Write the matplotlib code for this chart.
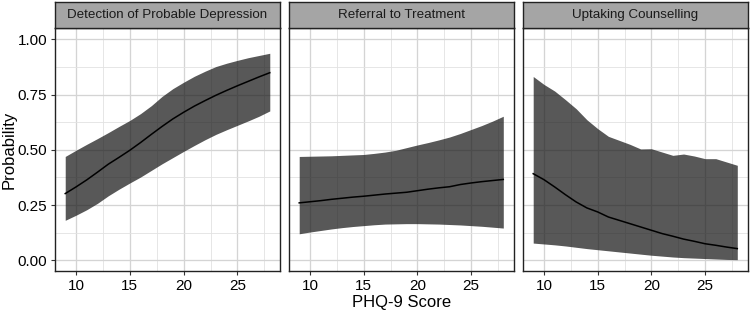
import matplotlib
matplotlib.use("Agg")
import matplotlib.pyplot as plt
from matplotlib.ticker import MultipleLocator
import numpy as np

plt.rcParams['font.family'] = ['Liberation Sans', 'DejaVu Sans']

phq = [9, 10, 11, 12, 13, 14, 15, 16, 17, 18, 19, 20, 21, 22, 23, 24, 25, 26, 27, 28]

titles = ["Detection of Probable Depression", "Referral to Treatment", "Uptaking Counselling"]

detect_fit = [0.302, 0.332, 0.364, 0.399, 0.435, 0.466, 0.498, 0.533, 0.570, 0.606,
              0.640, 0.670, 0.698, 0.723, 0.747, 0.769, 0.790, 0.810, 0.830, 0.849]
detect_hi = [0.470, 0.498, 0.525, 0.551, 0.578, 0.606, 0.633, 0.664, 0.700, 0.742,
             0.777, 0.806, 0.833, 0.856, 0.877, 0.892, 0.905, 0.917, 0.927, 0.937]
detect_lo = [0.181, 0.204, 0.229, 0.258, 0.292, 0.322, 0.350, 0.377, 0.407, 0.437,
             0.465, 0.493, 0.520, 0.546, 0.570, 0.591, 0.611, 0.631, 0.652, 0.676]

refer_fit = [0.260, 0.265, 0.270, 0.276, 0.281, 0.286, 0.290, 0.295, 0.300, 0.304,
             0.308, 0.315, 0.322, 0.328, 0.333, 0.343, 0.350, 0.356, 0.361, 0.366]
refer_hi = [0.470, 0.471, 0.472, 0.473, 0.475, 0.477, 0.479, 0.484, 0.490, 0.498,
            0.510, 0.522, 0.533, 0.545, 0.558, 0.574, 0.592, 0.610, 0.630, 0.652]
refer_lo = [0.120, 0.128, 0.135, 0.142, 0.148, 0.153, 0.157, 0.161, 0.164, 0.165,
            0.166, 0.166, 0.165, 0.164, 0.162, 0.160, 0.157, 0.154, 0.150, 0.146]

couns_fit = [0.392, 0.365, 0.332, 0.297, 0.264, 0.237, 0.219, 0.196, 0.181, 0.166,
             0.151, 0.136, 0.121, 0.109, 0.096, 0.086, 0.075, 0.068, 0.060, 0.053]
couns_hi = [0.832, 0.796, 0.766, 0.727, 0.686, 0.636, 0.596, 0.561, 0.543, 0.525,
            0.504, 0.505, 0.490, 0.475, 0.481, 0.472, 0.460, 0.460, 0.445, 0.430]
couns_lo = [0.078, 0.074, 0.070, 0.065, 0.059, 0.053, 0.048, 0.043, 0.038, 0.033,
            0.028, 0.023, 0.019, 0.015, 0.012, 0.010, 0.008, 0.006, 0.004, 0.003]

fits = [detect_fit, refer_fit, couns_fit]
his = [detect_hi, refer_hi, couns_hi]
los = [detect_lo, refer_lo, couns_lo]

x_ticks = [10, 15, 20, 25]
y_ticks = [0.00, 0.25, 0.50, 0.75, 1.00]
y_tick_labels = ["0.00", "0.25", "0.50", "0.75", "1.00"]

W, H = 750, 311
fig = plt.figure(figsize=(W / 100, H / 100), dpi=100)

panels_px = [(55, 280), (289, 513.5), (523, 747.5)]
top_px, bot_px, strip_top_px = 28.3, 270.7, 2.0

for i, (x0, x1) in enumerate(panels_px):
    ax = fig.add_axes([x0 / W, 1 - bot_px / H, (x1 - x0) / W, (bot_px - top_px) / H])
    ax.set_xlim(8.05, 28.95)
    ax.set_ylim(-0.047, 1.05)
    ax.xaxis.set_major_locator(MultipleLocator(5))
    ax.xaxis.set_minor_locator(MultipleLocator(2.5))
    ax.yaxis.set_major_locator(MultipleLocator(0.25))
    ax.yaxis.set_minor_locator(MultipleLocator(0.125))
    ax.grid(which='major', color='#d4d4d4', lw=0.95)
    ax.grid(which='minor', color='#e2e2e2', lw=0.6)
    ax.set_axisbelow(True)
    ax.fill_between(phq, los[i], his[i], color='#1a1a1a', alpha=0.73, lw=0)
    ax.plot(phq, fits[i], color='black', lw=1.1)
    ax.set_xticks(x_ticks)
    ax.set_xticklabels([str(t) for t in x_ticks])
    ax.tick_params(which='minor', length=0)
    ax.tick_params(which='major', direction='out', length=3.2, width=0.8,
                   color='#333333', labelsize=11, labelcolor='black', pad=2.5)
    if i == 0:
        ax.set_yticks(y_ticks)
        ax.set_yticklabels(y_tick_labels)
    else:
        ax.set_yticks(y_ticks)
        ax.tick_params(axis='y', length=0, labelleft=False)
    for s in ax.spines.values():
        s.set_color('#222222')
        s.set_linewidth(1.0)

    sax = fig.add_axes([x0 / W, 1 - top_px / H, (x1 - x0) / W, (top_px - strip_top_px) / H])
    sax.set_facecolor('#a5a5a5')
    sax.set_xticks([])
    sax.set_yticks([])
    for s in sax.spines.values():
        s.set_color('#222222')
        s.set_linewidth(1.0)
    sax.text(0.5, 0.5, titles[i], ha='center', va='center', fontsize=9.6,
             color='#1a1a1a', transform=sax.transAxes)

fig.text(401.5 / W, 1 - 303 / H, "PHQ-9 Score", ha='center', va='center', fontsize=12)
fig.text(9 / W, 1 - 150 / H, "Probability", ha='center', va='center', rotation=90, fontsize=12)

fig.savefig("out.png", dpi=100, facecolor='white')
